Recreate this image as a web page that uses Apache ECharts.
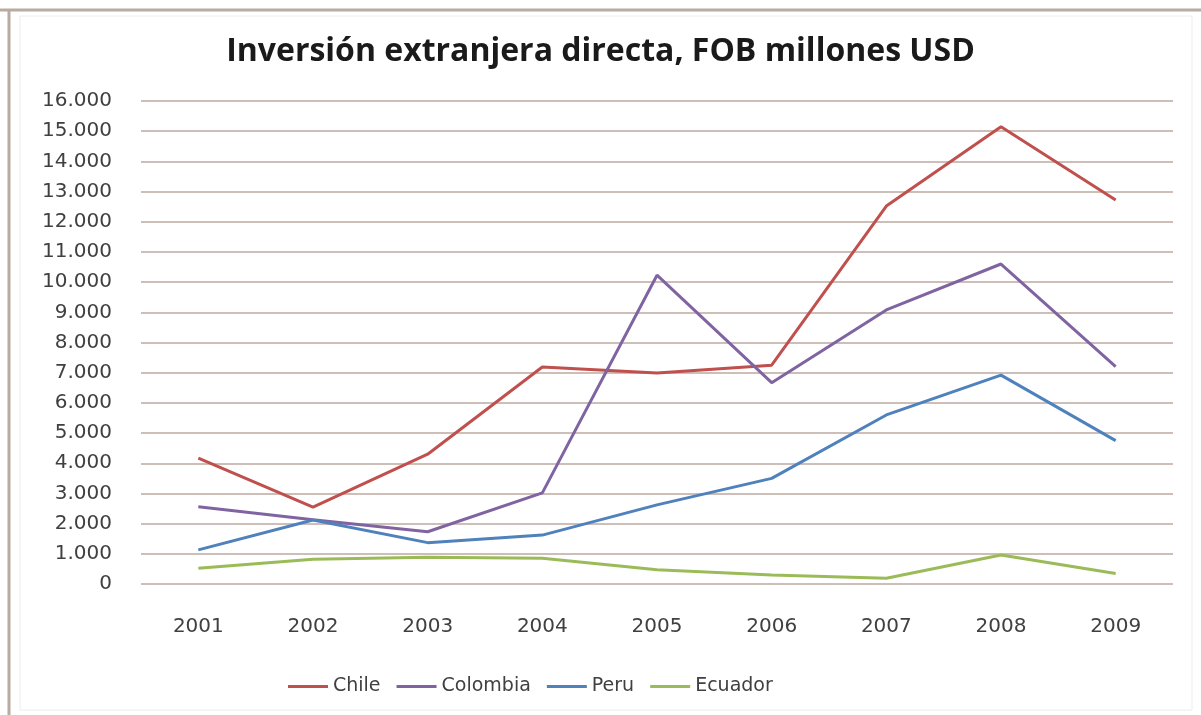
<!DOCTYPE html>
<html>
<head>
<meta charset="utf-8">
<script src="https://cdn.jsdelivr.net/npm/echarts@6/dist/echarts.min.js"></script>
<style>
html,body{margin:0;padding:0;background:#fff;}
#chart{width:1201px;height:715px;}
</style>
</head>
<body>
<div id="chart"></div>
<script>
const years = ['2001','2002','2003','2004','2005','2006','2007','2008','2009'];
const chile = [4170, 2550, 4300, 7190, 6990, 7250, 12520, 15150, 12720];
const colombia = [2560, 2130, 1730, 3020, 10230, 6670, 9080, 10600, 7200];
const peru = [1130, 2120, 1370, 1620, 2620, 3500, 5600, 6920, 4750];
const ecuador = [520, 820, 890, 850, 470, 300, 190, 960, 350];
const seriesNames = ['Chile','Colombia','Peru','Ecuador'];
const seriesColors = ['#C0504D','#8064A2','#4F81BD','#9BBB59'];
const seriesData = [chile, colombia, peru, ecuador];

const chart = echarts.init(document.getElementById('chart'));
const font = 'DejaVu Sans';
chart.setOption({
  animation: false,
  backgroundColor: '#fff',
  graphic: [
    {type:'rect', shape:{x:20,y:16,width:1172,height:694}, style:{fill:'none', stroke:'#ececec', lineWidth:1}},
    {type:'line', shape:{x1:0,y1:10,x2:1201,y2:10}, style:{stroke:'#b9aaa2', lineWidth:3}},
    {type:'line', shape:{x1:9,y1:10,x2:9,y2:715}, style:{stroke:'#b9aaa2', lineWidth:3}}
  ],
  title: {
    text: 'Inversión extranjera directa, FOB millones USD',
    left: 'center', top: 31,
    textStyle: {fontFamily: 'Open Sans', fontWeight: 'bold', fontSize: 32, color: '#1a1a1a'}
  },
  legend: {
    bottom: 14, left: 283,
    itemWidth: 40, itemHeight: 3, itemGap: 16,
    icon: 'rect',
    textStyle: {fontFamily: font, fontSize: 19, color: '#404040'},
    data: seriesNames
  },
  grid: {left: 141, right: 28, top: 101, bottom: 131},
  xAxis: {
    type: 'category', data: years, boundaryGap: true,
    axisLine: {show: false}, axisTick: {show: false},
    axisLabel: {fontFamily: font, fontSize: 20, color: '#404040', margin: 33}
  },
  yAxis: {
    type: 'value', min: 0, max: 16000, interval: 1000,
    axisLine: {show: false}, axisTick: {show: false},
    splitLine: {lineStyle: {color: '#cdbfb8', width: 2}},
    axisLabel: {fontFamily: font, fontSize: 20, color: '#404040', margin: 29,
      formatter: v => v === 0 ? '0' : v.toLocaleString('de-DE')}
  },
  series: seriesNames.map((n, i) => ({
    name: n, type: 'line', data: seriesData[i], symbol: 'none',
    lineStyle: {color: seriesColors[i], width: 3}, itemStyle: {color: seriesColors[i]}
  }))
});
</script>
</body>
</html>
